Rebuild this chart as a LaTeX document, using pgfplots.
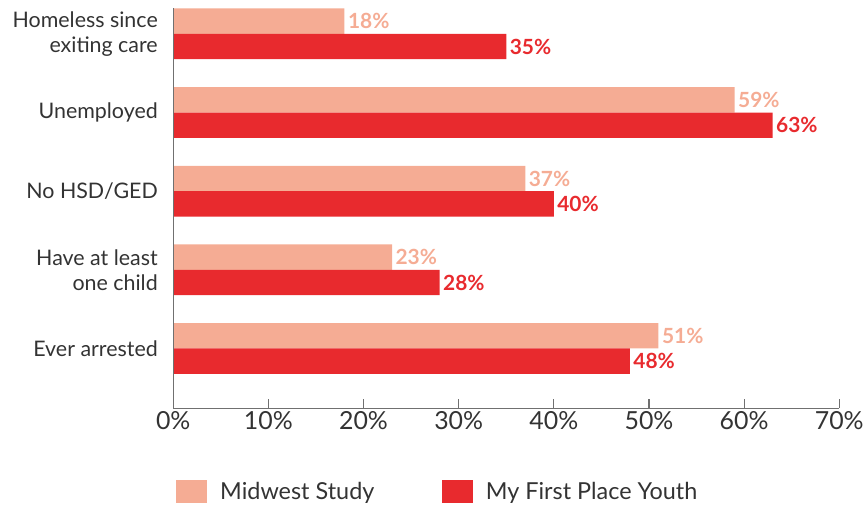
\documentclass[border=0pt]{standalone}
\usepackage{fontspec}
\setmainfont{Lato}
\usepackage{pgfplots}
\pgfplotsset{compat=1.18}
\definecolor{salmon}{HTML}{F5AC94}
\definecolor{mfred}{HTML}{E82A2E}
\definecolor{txt}{HTML}{333333}
\definecolor{axgray}{HTML}{707070}
\begin{document}
\begin{tikzpicture}
\begin{axis}[
 scale only axis, width=669pt, height=402pt,
 xmin=0, xmax=70, ymin=-0.759, ymax=4.329,
 xbar, bar width=0.3228,
 axis x line*=bottom, axis y line*=left,
 axis line style={axgray, line width=1.2pt},
 axis on top,
 xtick={0,10,...,70},
 xticklabels={0\%,10\%,20\%,30\%,40\%,50\%,60\%,70\%},
 ytick={0,1,2,3,4},
 yticklabels={Ever arrested, {Have at least\\one child}, No HSD/GED, Unemployed, {Homeless since\\exiting care}},
 major tick length=9pt, tick align=inside,
 xtick style={axgray, line width=1.2pt},
 ytick style={draw=none},
 x tick label style={font=\fontsize{25}{29}\selectfont, text=txt},
 y tick label style={font=\fontsize{21.5}{25}\selectfont, text=txt, align=right, xshift=-12pt},
 nodes near coords={\pgfmathprintnumber[assume math mode=true]{\pgfplotspointmeta}\%},
 every node near coord/.append style={font=\fontsize{21}{24}\selectfont\bfseries, anchor=west},
 legend style={at={(0,0)}, anchor=west, yshift=-84pt, draw=none, fill=none,
   font=\fontsize{23.5}{27}\selectfont, text=txt, legend columns=2,
   /tikz/every odd column/.append style={column sep=11pt},
   /tikz/every even column/.append style={column sep=66pt}},
]
\addplot[fill=salmon, draw=none, bar shift=0.1614, nodes near coords style={text=salmon},
  legend image code/.code={\fill[salmon] (0pt,-11.5pt) rectangle (31pt,11.5pt);}]
  coordinates {(51,0) (23,1) (37,2) (59,3) (18,4)};
\addlegendentry{Midwest Study}
\addplot[fill=mfred, draw=none, bar shift=-0.1614, nodes near coords style={text=mfred},
  legend image code/.code={\fill[mfred] (0pt,-11.5pt) rectangle (31pt,11.5pt);}]
  coordinates {(48,0) (28,1) (40,2) (63,3) (35,4)};
\addlegendentry{My First Place Youth}
\end{axis}
\path (current axis.south west) ++(-174pt,-102pt) rectangle ([xshift=24pt,yshift=8pt]current axis.north east);
\end{tikzpicture}
\end{document}
